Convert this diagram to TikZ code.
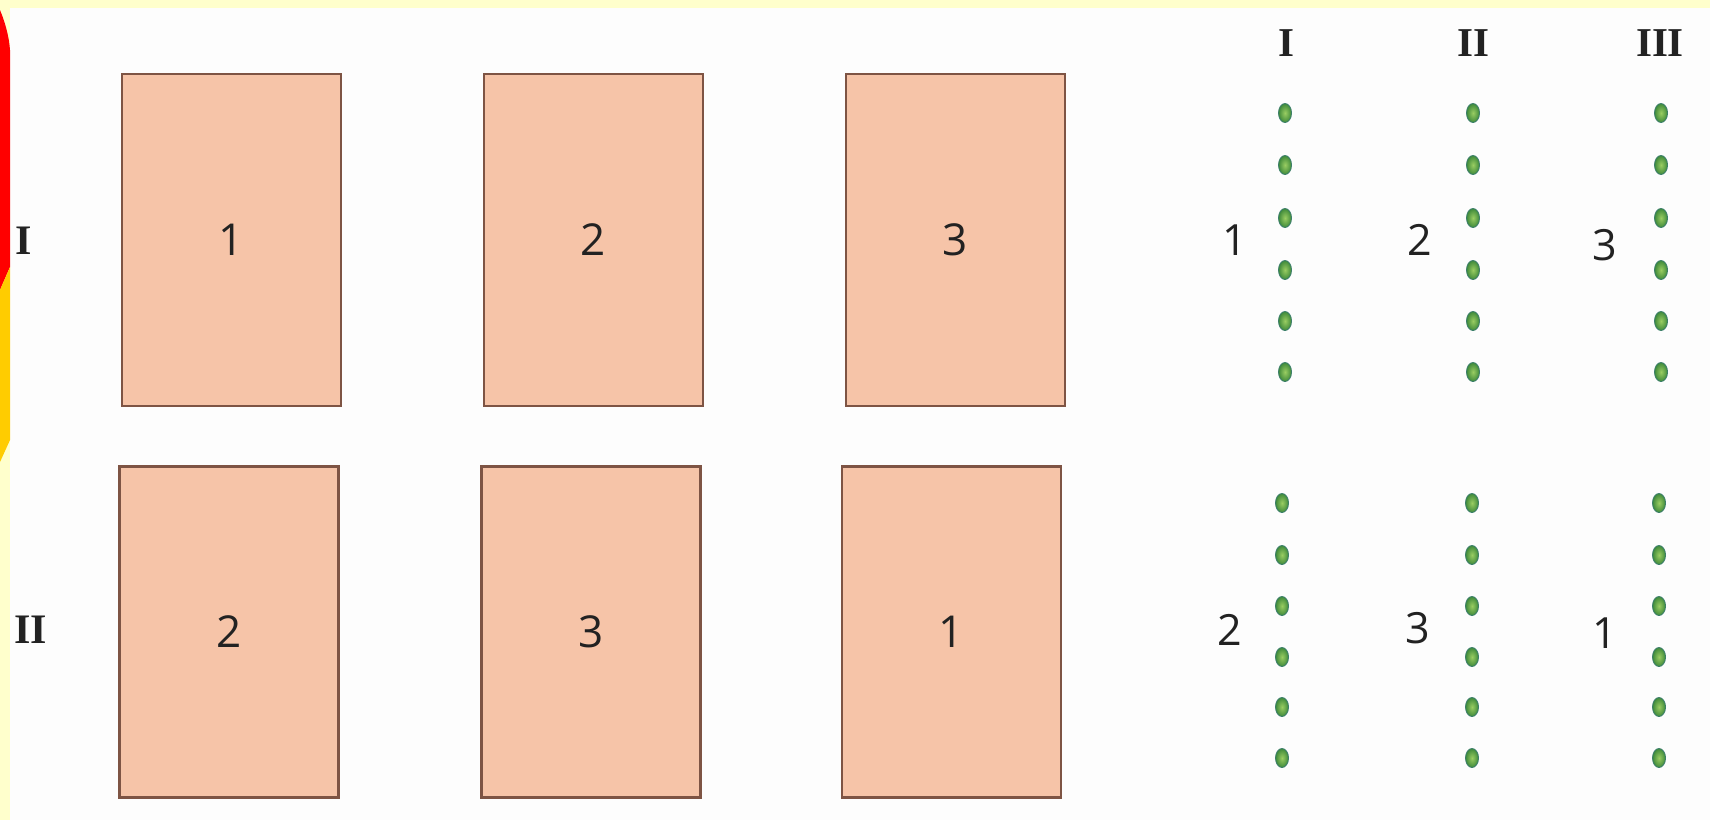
\documentclass[tikz,border=0pt]{standalone}
\usepackage{fontspec}
\usetikzlibrary{shapes.geometric}
\newfontfamily\digitfont{Open Sans}
\newfontfamily\romfont{Liberation Serif}
\definecolor{bandyellow}{HTML}{FFFFCC}
\definecolor{pagewhite}{HTML}{FDFDFD}
\definecolor{salmon}{HTML}{F6C4A8}
\definecolor{rectedge}{HTML}{7E5444}
\definecolor{inkgrey}{HTML}{222222}
\definecolor{dotouter}{HTML}{3F8A3A}
\definecolor{dotinner}{HTML}{9ACD62}
\definecolor{dotedge}{HTML}{3C7F6A}
\definecolor{flagred}{HTML}{FF0000}
\definecolor{flagyellow}{HTML}{FFCC00}
\tikzset{
  card/.style={draw=rectedge, line width=2.5pt, fill=salmon, minimum width=219pt, minimum height=332pt, inner sep=0pt,
    font=\digitfont\fontsize{44}{45}\selectfont, text=inkgrey},
  rowlabel/.style={font=\romfont\bfseries\fontsize{42}{44}\selectfont, text=inkgrey, inner sep=0pt},
  collabel/.style={font=\romfont\bfseries\fontsize{41}{42}\selectfont, text=inkgrey, inner sep=0pt},
  numlabel/.style={font=\digitfont\fontsize{43}{44}\selectfont, text=inkgrey, inner sep=0pt},
  seed/.style={ellipse, minimum width=13pt, minimum height=19pt, inner sep=0pt,
    inner color=dotinner, outer color=dotouter, draw=dotedge, line width=0.9pt}
}
\begin{document}
\begin{tikzpicture}[x=1pt,y=-1pt]
\useasboundingbox (0,0) rectangle (1710,820);
% page and bands
\fill[pagewhite] (0,0) rectangle (1710,820);
\fill[bandyellow] (0,0) rectangle (1710,8);
\fill[bandyellow] (0,0) rectangle (10,820);
% left marker
\begin{scope}
\clip (0,0) rectangle (10,820);
\fill[flagred] (0,10) .. controls (5,22) and (9,36) .. (10,50) -- (10,267) -- (0,290) -- cycle;
\fill[flagyellow] (0,290) -- (10,267) -- (10,440) -- (0,462) -- cycle;
\end{scope}
% row labels
\node[rowlabel] (rowI) at (24,241) {I};
\node[rowlabel] (rowII) at (31,630) {II};
% cards row 1
\node[card] (c11) at (231.5,240) {1};
\node[card] (c12) at (593.5,240) {2};
\node[card] (c13) at (955.5,240) {3};
% cards row 2
\node[card, minimum height=331pt] (c21) at (229,632) {2};
\node[card, minimum height=331pt] (c22) at (591,632) {3};
\node[card, minimum height=331pt] (c23) at (951.5,632) {1};
% column headers
\node[collabel] (hI) at (1286,43) {I};
\node[collabel] (hII) at (1473,43) {II};
\node[collabel] (hIII) at (1660,43) {III};
% seed rows, group 1
\foreach \c/\x in {1/1285,2/1473,3/1661}{
  \foreach \k/\y in {1/113,2/165,3/218,4/270,5/321,6/372}{
    \node[seed] (sa\c\k) at (\x,\y) {};
  }
}
\node[numlabel] (na1) at (1235,240) {1};
\node[numlabel] (na2) at (1420,240) {2};
\node[numlabel] (na3) at (1605,245) {3};
% seed rows, group 2
\foreach \c/\x in {1/1282,2/1472,3/1659}{
  \foreach \k/\y in {1/503,2/555,3/606,4/657,5/707,6/758}{
    \node[seed] (sb\c\k) at (\x,\y) {};
  }
}
\node[numlabel] (nb1) at (1230,630) {2};
\node[numlabel] (nb2) at (1418,628) {3};
\node[numlabel] (nb3) at (1605,633) {1};
\end{tikzpicture}
\end{document}
